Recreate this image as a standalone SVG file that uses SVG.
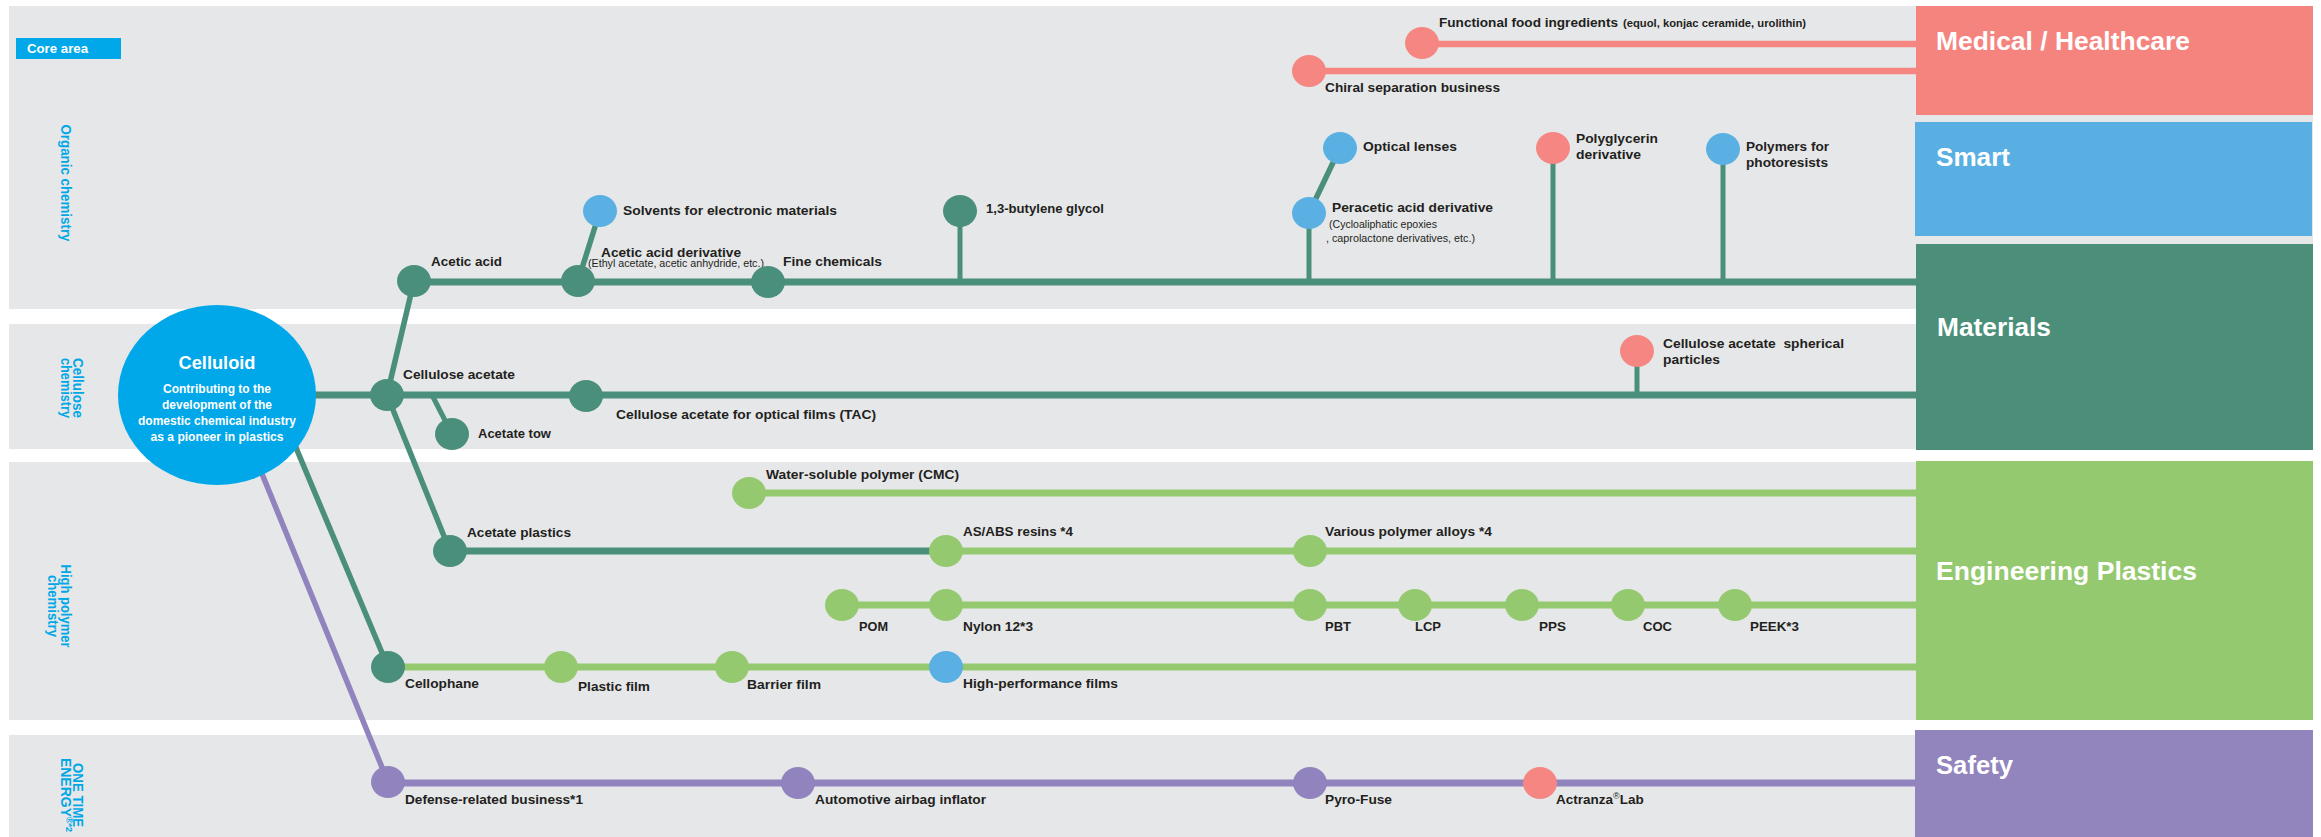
<svg xmlns="http://www.w3.org/2000/svg" width="2321" height="837" viewBox="0 0 2321 837">
<defs>
<style>
.band{fill:#e6e7e9}
.lbl{font-family:'Liberation Sans',Arial,sans-serif;font-weight:bold;font-size:13.5px;fill:#231f20}
.sub{font-family:'Liberation Sans',Arial,sans-serif;font-weight:normal;font-size:10.5px;fill:#231f20}
.subb{font-family:'Liberation Sans',Arial,sans-serif;font-weight:bold;font-size:10px;fill:#231f20}
.vt{font-family:'Liberation Sans',Arial,sans-serif;font-weight:bold;font-size:14px;fill:#00a7e6}
.ttl{font-family:'Liberation Sans',Arial,sans-serif;font-weight:bold;font-size:26px;fill:#ffffff}
.wt{font-family:'Liberation Sans',Arial,sans-serif;font-weight:bold;fill:#ffffff}
.dg{stroke:#4a8f7b;fill:none}
.lg{stroke:#95c96f;fill:none}
.pk{stroke:#f58681;fill:none}
.pu{stroke:#9183bd;fill:none}
.h{stroke-width:7}
.d{stroke-width:5.5}
.s{stroke-width:5}
.n-dg{fill:#4a8f7b}
.n-lg{fill:#95c96f}
.n-bl{fill:#5ab0e3}
.n-pk{fill:#f58681}
.n-pu{fill:#9183bd}
</style>
</defs>

<!-- background bands -->
<rect x="0" y="0" width="2321" height="837" fill="#ffffff"/>
<rect class="band" x="9" y="6" width="2304" height="303"/>
<rect class="band" x="9" y="324" width="2304" height="125"/>
<rect class="band" x="9" y="462" width="2304" height="258"/>
<rect class="band" x="9" y="735" width="2304" height="102"/>

<!-- side labels -->
<g id="core-area">
<rect x="16" y="38" width="105" height="21" fill="#00a7e9"/>
<text class="wt" x="27" y="53" font-size="13" textLength="61" lengthAdjust="spacingAndGlyphs">Core area</text>
</g>
<g id="side-labels">
<text class="vt" transform="translate(61,183) rotate(90)" text-anchor="middle" textLength="117" lengthAdjust="spacingAndGlyphs">Organic chemistry</text>
<text class="vt" transform="translate(72.5,388) rotate(90)" text-anchor="middle" textLength="60" lengthAdjust="spacingAndGlyphs">Cellulose</text>
<text class="vt" transform="translate(60.5,388) rotate(90)" text-anchor="middle" textLength="60" lengthAdjust="spacingAndGlyphs">chemistry</text>
<text class="vt" transform="translate(60.5,606) rotate(90)" text-anchor="middle" textLength="83" lengthAdjust="spacingAndGlyphs">High polymer</text>
<text class="vt" transform="translate(48,606) rotate(90)" text-anchor="middle" textLength="62" lengthAdjust="spacingAndGlyphs">chemistry</text>
<text class="vt" transform="translate(72.5,795) rotate(90)" text-anchor="middle" textLength="64" lengthAdjust="spacingAndGlyphs">ONE TIME</text>
<text class="vt" transform="translate(60.5,795) rotate(90)" text-anchor="middle">ENERGY<tspan font-size="9" baseline-shift="super">®*2</tspan></text>
</g>

<!-- connectors -->
<g id="connectors">
<line class="dg h" x1="414" y1="282" x2="1916" y2="282"/>
<line class="dg d" x1="578" y1="281" x2="600" y2="211"/>
<line class="dg s" x1="960" y1="211" x2="960" y2="282"/>
<line class="dg s" x1="1309" y1="213" x2="1309" y2="282"/>
<line class="dg d" x1="1309" y1="213" x2="1340" y2="148"/>
<line class="dg s" x1="1553" y1="148" x2="1553" y2="282"/>
<line class="dg s" x1="1723" y1="149" x2="1723" y2="282"/>
<line class="pk" stroke-width="6.5" x1="1422" y1="44" x2="1916" y2="44"/>
<line class="pk" stroke-width="6.5" x1="1309" y1="71" x2="1916" y2="71"/>
<line class="dg d" x1="414" y1="281" x2="387" y2="395"/>
<line class="dg h" x1="290" y1="395" x2="1916" y2="395"/>
<line class="dg s" x1="432" y1="395" x2="452" y2="434"/>
<line class="dg s" x1="1637" y1="351" x2="1637" y2="395"/>
<line class="dg d" x1="387" y1="395" x2="450" y2="551"/>
<line class="dg h" x1="450" y1="551" x2="946" y2="551"/>
<line class="lg h" x1="946" y1="551" x2="1916" y2="551"/>
<line class="lg h" x1="749" y1="493" x2="1916" y2="493"/>
<line class="lg h" x1="842" y1="605" x2="1916" y2="605"/>
<line class="dg d" x1="276" y1="400" x2="388" y2="667"/>
<line class="lg h" x1="388" y1="667" x2="1916" y2="667"/>
<line class="pu d" x1="240" y1="420" x2="388" y2="782"/>
<line class="pu h" x1="388" y1="783" x2="1916" y2="783"/>
</g>

<!-- Celluloid -->
<g id="celluloid">
<ellipse cx="217" cy="395" rx="99" ry="90" fill="#00a7e9"/>
<text class="wt" x="217" y="369" font-size="18" text-anchor="middle" textLength="77" lengthAdjust="spacingAndGlyphs">Celluloid</text>
<text class="wt" x="217" y="393" font-size="12" text-anchor="middle" textLength="108" lengthAdjust="spacingAndGlyphs">Contributing to the</text>
<text class="wt" x="217" y="409" font-size="12" text-anchor="middle" textLength="110" lengthAdjust="spacingAndGlyphs">development of the</text>
<text class="wt" x="217" y="425" font-size="12" text-anchor="middle" textLength="158" lengthAdjust="spacingAndGlyphs">domestic chemical industry</text>
<text class="wt" x="217" y="441" font-size="12" text-anchor="middle" textLength="133" lengthAdjust="spacingAndGlyphs">as a pioneer in plastics</text>
</g>

<!-- band 1 nodes -->
<g id="acetic-acid"><ellipse class="n-dg" cx="414" cy="281" rx="17" ry="16"/><text class="lbl" x="431" y="266" textLength="71" lengthAdjust="spacingAndGlyphs">Acetic acid</text></g>
<g id="acetic-acid-derivative"><ellipse class="n-dg" cx="578" cy="281" rx="17" ry="16"/><text class="lbl" x="601" y="257" textLength="140" lengthAdjust="spacingAndGlyphs">Acetic acid derivative</text><text class="sub" x="588" y="267" textLength="176" lengthAdjust="spacingAndGlyphs">(Ethyl acetate, acetic anhydride, etc.)</text></g>
<g id="solvents"><ellipse class="n-bl" cx="600" cy="211" rx="17" ry="16"/><text class="lbl" x="623" y="215" textLength="214" lengthAdjust="spacingAndGlyphs">Solvents for electronic materials</text></g>
<g id="fine-chemicals"><ellipse class="n-dg" cx="768" cy="282" rx="17" ry="16"/><text class="lbl" x="783" y="266" textLength="99" lengthAdjust="spacingAndGlyphs">Fine chemicals</text></g>
<g id="butylene-glycol"><ellipse class="n-dg" cx="960" cy="211" rx="17" ry="16"/><text class="lbl" x="986" y="213" textLength="118" lengthAdjust="spacingAndGlyphs">1,3-butylene glycol</text></g>
<g id="peracetic"><ellipse class="n-bl" cx="1309" cy="213" rx="17" ry="16"/><text class="lbl" x="1332" y="212" textLength="161" lengthAdjust="spacingAndGlyphs">Peracetic acid derivative</text><text class="sub" x="1329" y="228" textLength="108" lengthAdjust="spacingAndGlyphs">(Cycloaliphatic epoxies</text><text class="sub" x="1326" y="242" textLength="149" lengthAdjust="spacingAndGlyphs">, caprolactone derivatives, etc.)</text></g>
<g id="optical-lenses"><ellipse class="n-bl" cx="1340" cy="148" rx="17" ry="16"/><text class="lbl" x="1363" y="151" textLength="94" lengthAdjust="spacingAndGlyphs">Optical lenses</text></g>
<g id="polyglycerin"><ellipse class="n-pk" cx="1553" cy="148" rx="17" ry="16"/><text class="lbl" x="1576" y="143" textLength="82" lengthAdjust="spacingAndGlyphs">Polyglycerin</text><text class="lbl" x="1576" y="159" textLength="65" lengthAdjust="spacingAndGlyphs">derivative</text></g>
<g id="photoresists"><ellipse class="n-bl" cx="1723" cy="149" rx="17" ry="16"/><text class="lbl" x="1746" y="151" textLength="83" lengthAdjust="spacingAndGlyphs">Polymers for</text><text class="lbl" x="1746" y="167" textLength="82" lengthAdjust="spacingAndGlyphs">photoresists</text></g>
<g id="chiral"><ellipse class="n-pk" cx="1309" cy="71" rx="17" ry="16"/><text class="lbl" x="1325" y="92" textLength="175" lengthAdjust="spacingAndGlyphs">Chiral separation business</text></g>
<g id="functional-food"><ellipse class="n-pk" cx="1422" cy="43" rx="17" ry="16"/><text class="lbl" x="1439" y="27" textLength="179" lengthAdjust="spacingAndGlyphs">Functional food ingredients</text><text class="subb" x="1623" y="27" textLength="183" lengthAdjust="spacingAndGlyphs">(equol, konjac ceramide, urolithin)</text></g>

<!-- band 2 nodes -->
<g id="cellulose-acetate"><ellipse class="n-dg" cx="387" cy="395" rx="17" ry="16"/><text class="lbl" x="403" y="379" textLength="112" lengthAdjust="spacingAndGlyphs">Cellulose acetate</text></g>
<g id="acetate-tow"><ellipse class="n-dg" cx="452" cy="434" rx="17" ry="16"/><text class="lbl" x="478" y="438" textLength="73" lengthAdjust="spacingAndGlyphs">Acetate tow</text></g>
<g id="tac"><ellipse class="n-dg" cx="586" cy="396" rx="17" ry="16"/><text class="lbl" x="616" y="419" textLength="260" lengthAdjust="spacingAndGlyphs">Cellulose acetate for optical films (TAC)</text></g>
<g id="spherical"><ellipse class="n-pk" cx="1637" cy="351" rx="17" ry="16"/><text class="lbl" x="1663" y="348" textLength="181" lengthAdjust="spacingAndGlyphs" xml:space="preserve">Cellulose acetate  spherical</text><text class="lbl" x="1663" y="364" textLength="57" lengthAdjust="spacingAndGlyphs">particles</text></g>

<!-- band 3 nodes -->
<g id="cmc"><ellipse class="n-lg" cx="749" cy="493" rx="17" ry="16"/><text class="lbl" x="766" y="479" textLength="193" lengthAdjust="spacingAndGlyphs">Water-soluble polymer (CMC)</text></g>
<g id="acetate-plastics"><ellipse class="n-dg" cx="450" cy="551" rx="17" ry="16"/><text class="lbl" x="467" y="537" textLength="104" lengthAdjust="spacingAndGlyphs">Acetate plastics</text></g>
<g id="as-abs"><ellipse class="n-lg" cx="946" cy="551" rx="17" ry="16"/><text class="lbl" x="963" y="536" textLength="110" lengthAdjust="spacingAndGlyphs">AS/ABS resins *4</text></g>
<g id="polymer-alloys"><ellipse class="n-lg" cx="1310" cy="551" rx="17" ry="16"/><text class="lbl" x="1325" y="536" textLength="167" lengthAdjust="spacingAndGlyphs">Various polymer alloys *4</text></g>
<g id="pom"><ellipse class="n-lg" cx="842" cy="605" rx="17" ry="16"/><text class="lbl" x="859" y="631" textLength="29" lengthAdjust="spacingAndGlyphs">POM</text></g>
<g id="nylon"><ellipse class="n-lg" cx="946" cy="605" rx="17" ry="16"/><text class="lbl" x="963" y="631" textLength="70" lengthAdjust="spacingAndGlyphs">Nylon 12*3</text></g>
<g id="pbt"><ellipse class="n-lg" cx="1310" cy="605" rx="17" ry="16"/><text class="lbl" x="1325" y="631" textLength="26" lengthAdjust="spacingAndGlyphs">PBT</text></g>
<g id="lcp"><ellipse class="n-lg" cx="1415" cy="605" rx="17" ry="16"/><text class="lbl" x="1415" y="631" textLength="26" lengthAdjust="spacingAndGlyphs">LCP</text></g>
<g id="pps"><ellipse class="n-lg" cx="1522" cy="605" rx="17" ry="16"/><text class="lbl" x="1539" y="631" textLength="27" lengthAdjust="spacingAndGlyphs">PPS</text></g>
<g id="coc"><ellipse class="n-lg" cx="1628" cy="605" rx="17" ry="16"/><text class="lbl" x="1643" y="631" textLength="29" lengthAdjust="spacingAndGlyphs">COC</text></g>
<g id="peek"><ellipse class="n-lg" cx="1735" cy="605" rx="17" ry="16"/><text class="lbl" x="1750" y="631" textLength="49" lengthAdjust="spacingAndGlyphs">PEEK*3</text></g>
<g id="cellophane"><ellipse class="n-dg" cx="388" cy="667" rx="17" ry="16"/><text class="lbl" x="405" y="688" textLength="74" lengthAdjust="spacingAndGlyphs">Cellophane</text></g>
<g id="plastic-film"><ellipse class="n-lg" cx="561" cy="667" rx="17" ry="16"/><text class="lbl" x="578" y="691" textLength="72" lengthAdjust="spacingAndGlyphs">Plastic film</text></g>
<g id="barrier-film"><ellipse class="n-lg" cx="732" cy="667" rx="17" ry="16"/><text class="lbl" x="747" y="689" textLength="74" lengthAdjust="spacingAndGlyphs">Barrier film</text></g>
<g id="hp-films"><ellipse class="n-bl" cx="946" cy="667" rx="17" ry="16"/><text class="lbl" x="963" y="688" textLength="155" lengthAdjust="spacingAndGlyphs">High-performance films</text></g>

<!-- band 4 nodes -->
<g id="defense"><ellipse class="n-pu" cx="388" cy="782" rx="17" ry="16"/><text class="lbl" x="405" y="804" textLength="178" lengthAdjust="spacingAndGlyphs">Defense-related business*1</text></g>
<g id="airbag"><ellipse class="n-pu" cx="798" cy="783" rx="17" ry="16"/><text class="lbl" x="815" y="804" textLength="171" lengthAdjust="spacingAndGlyphs">Automotive airbag inflator</text></g>
<g id="pyro-fuse"><ellipse class="n-pu" cx="1310" cy="783" rx="17" ry="16"/><text class="lbl" x="1325" y="804" textLength="67" lengthAdjust="spacingAndGlyphs">Pyro-Fuse</text></g>
<g id="actranza"><ellipse class="n-pk" cx="1540" cy="783" rx="17" ry="16"/><text class="lbl" x="1556" y="804">Actranza<tspan font-size="9" baseline-shift="super" font-weight="normal">®</tspan>Lab</text></g>

<!-- right category boxes -->
<g id="medical"><rect x="1916" y="6" width="397" height="109" fill="#f5847f"/><text class="ttl" x="1936" y="50" textLength="254" lengthAdjust="spacingAndGlyphs">Medical / Healthcare</text></g>
<g id="smart"><rect x="1915" y="122" width="397" height="114" fill="#5aafe2"/><text class="ttl" x="1936" y="166" textLength="74" lengthAdjust="spacingAndGlyphs">Smart</text></g>
<g id="materials"><rect x="1916" y="244" width="397" height="206" fill="#4b8f7b"/><text class="ttl" x="1937" y="336" textLength="114" lengthAdjust="spacingAndGlyphs">Materials</text></g>
<g id="engineering-plastics"><rect x="1916" y="461" width="397" height="259" fill="#95c96f"/><text class="ttl" x="1936" y="580" textLength="261" lengthAdjust="spacingAndGlyphs">Engineering Plastics</text></g>
<g id="safety"><rect x="1915" y="730" width="398" height="107" fill="#9284bd"/><text class="ttl" x="1936" y="774" textLength="77" lengthAdjust="spacingAndGlyphs">Safety</text></g>
</svg>
